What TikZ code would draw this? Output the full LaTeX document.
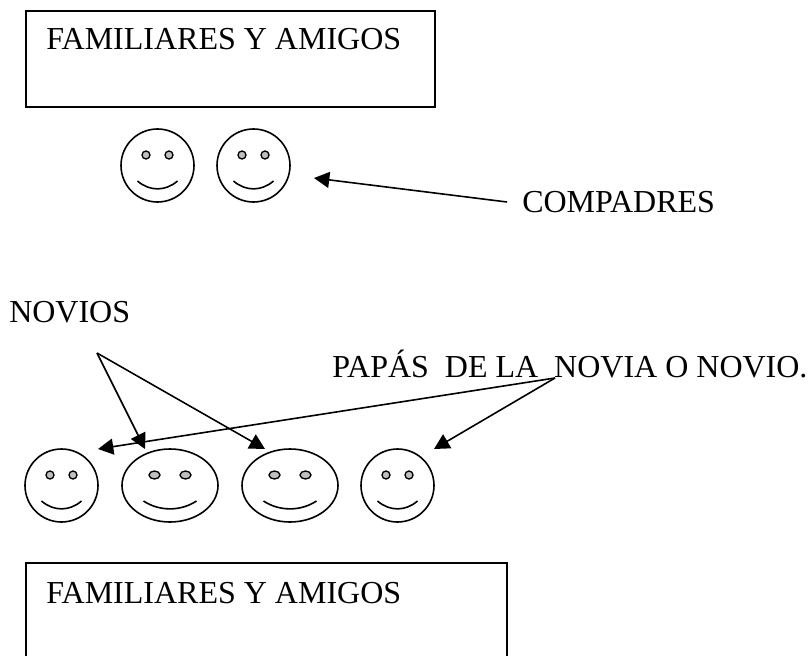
\documentclass[tikz,border=0pt]{standalone}
\usepackage{fontspec}
\setmainfont{Liberation Serif}
\usetikzlibrary{arrows.meta,shapes.geometric}
\newcommand{\grtsmile}[3]{%
  \draw[faceline] (#1-#3,#2+15.5) .. controls (#1-#3*0.4,#2+26) and (#1+#3*0.4,#2+26) .. (#1+#3,#2+15.5);}
\begin{document}
\begin{tikzpicture}[
    x=0.75pt, y=-0.75pt,
    faceline/.style={line width=1.2pt, black},
    guest/.style={draw, rectangle, line width=1.2pt, anchor=north west, inner sep=0},
    label/.style={anchor=base west, inner sep=0, font=\fontsize{24}{28}\selectfont},
    round face/.style={draw, ellipse, line width=1.2pt, inner sep=0, minimum width=73*0.75pt, minimum height=73*0.75pt},
    wide face/.style={draw, ellipse, line width=1.2pt, inner sep=0, minimum width=96*0.75pt, minimum height=73*0.75pt},
    eye/.style={draw, ellipse, fill=black!25, line width=1pt, inner sep=0, minimum width=#1*0.75pt, minimum height=8*0.75pt},
    pointer/.style={line width=1.2pt, -{Triangle[length=11.5pt, width=12pt]}}]
\useasboundingbox (0,0) rectangle (810,656);

% boxes
\node[guest, minimum width=409*0.75pt, minimum height=96*0.75pt] (boxtop) at (25,10) {};
\node[guest, minimum width=481*0.75pt, minimum height=100*0.75pt] (boxbottom) at (25,562) {};
\node[label] (famtop) at (46,50) {FAMILIARES Y AMIGOS};
\node[label] (fambottom) at (46,603) {FAMILIARES Y AMIGOS};

% compadres
\foreach \nm/\cx in {compa/157.5, compb/253.5} {
    \node[round face] (\nm) at (\cx,165.5) {};
    \node[eye=8] (\nm-l) at (\cx-11.5,155) {};
    \node[eye=8] (\nm-r) at (\cx+11.5,155) {};
    \grtsmile{\cx}{165.5}{20}
}
\node[label] (compadres) at (522,212) {COMPADRES};
\coordinate (compfrom) at (507,202);
\coordinate (compto) at (314,178);
\draw[pointer] (compfrom) -- (compto);

% novios y papas
\node[round face] (papaa) at (61.5,485.5) {};
\node[wide face] (novioa) at (170,485.5) {};
\node[wide face] (noviob) at (290,485.5) {};
\node[round face] (papab) at (397.5,485.5) {};
\foreach \nm/\cx in {papaa/61.5, papab/397.5} {
    \node[eye=8] (\nm-l) at (\cx-11.5,475) {};
    \node[eye=8] (\nm-r) at (\cx+11.5,475) {};
    \grtsmile{\cx}{485.5}{20}
}
\foreach \nm/\cx in {novioa/170, noviob/290} {
    \node[eye=11] (\nm-l) at (\cx-15.5,475) {};
    \node[eye=11] (\nm-r) at (\cx+15.5,475) {};
    \grtsmile{\cx}{485.5}{26.5}
}
\node[label] (novios) at (9,322) {NOVIOS};
\node[label] (papas) at (332,377) {PAP\'AS\ \ DE LA\ \ NOVIA O NOVIO.};
\coordinate (noviosfrom) at (97,353);
\coordinate (papasfrom) at (555,378);
\coordinate (tipa) at (145,449);
\coordinate (tipb) at (265,449);
\coordinate (tipc) at (98,449);
\coordinate (tipd) at (434,449);
\draw[pointer] (noviosfrom) -- (tipa);
\draw[pointer] (noviosfrom) -- (tipb);
\draw[pointer] (papasfrom) -- (tipc);
\draw[pointer] (papasfrom) -- (tipd);
\end{tikzpicture}
\end{document}
